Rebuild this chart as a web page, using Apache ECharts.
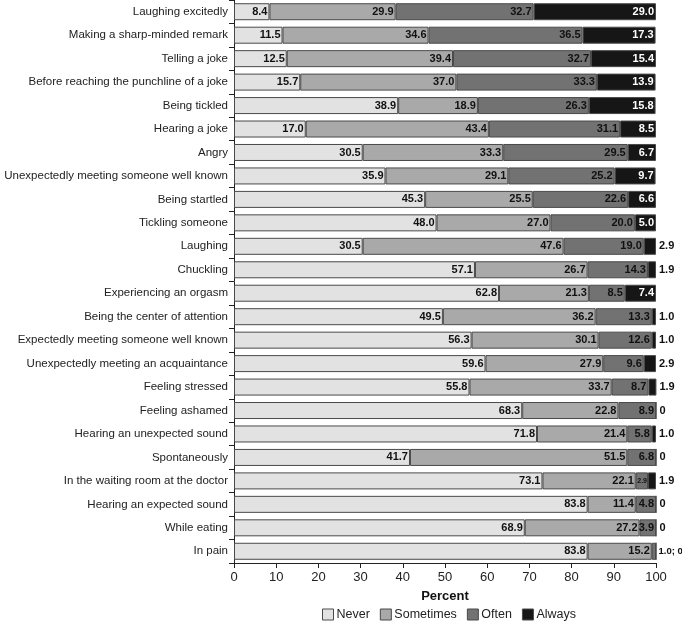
<!DOCTYPE html>
<html><head><meta charset="utf-8">
<script src="https://cdn.jsdelivr.net/npm/echarts@6/dist/echarts.min.js"></script>
<style>html,body{margin:0;padding:0;background:#fff}#c{width:682px;height:622px}</style>
</head><body><div id="c"></div>
<script>
const categories = [
  "Laughing excitedly","Making a sharp-minded remark","Telling a joke","Before reaching the punchline of a joke",
  "Being tickled","Hearing a joke","Angry","Unexpectedly meeting someone well known","Being startled",
  "Tickling someone","Laughing","Chuckling","Experiencing an orgasm","Being the center of attention",
  "Expectedly meeting someone well known","Unexpectedly meeting an acquaintance","Feeling stressed",
  "Feeling ashamed","Hearing an unexpected sound","Spontaneously","In the waiting room at the doctor",
  "Hearing an expected sound","While eating","In pain"
];
const never     = [8.4,11.5,12.5,15.7,38.9,17.0,30.5,35.9,45.3,48.0,30.5,57.1,62.8,49.5,56.3,59.6,55.8,68.3,71.8,41.7,73.1,83.8,68.9,83.8];
const sometimes = [29.9,34.6,39.4,37.0,18.9,43.4,33.3,29.1,25.5,27.0,47.6,26.7,21.3,36.2,30.1,27.9,33.7,22.8,21.4,51.5,22.1,11.4,27.2,15.2];
const often     = [32.7,36.5,32.7,33.3,26.3,31.1,29.5,25.2,22.6,20.0,19.0,14.3,8.5,13.3,12.6,9.6,8.7,8.9,5.8,6.8,2.9,4.8,3.9,1.0];
const always    = [29.0,17.3,15.4,13.9,15.8,8.5,6.7,9.7,6.6,5.0,2.9,1.9,7.4,1.0,1.0,2.9,1.9,0,1.0,0,1.9,0,0,0];
const seriesNames = ["Never","Sometimes","Often","Always"];
const colors = ["#e2e2e2","#a9a9a9","#727272","#161616"];

const FONT = "'Liberation Sans Narrow','Liberation Sans',Arial,sans-serif";
const outsideAlways = always.map(v => v < 4);
// a row whose Often segment is too small for its own label gets a combined outside label
const combined = often.map(v => v < 2);

function buildData(vals, idx) {
  return vals.map((v, i) => {
    const item = { value: v };
    if (idx === 3) {
      if (outsideAlways[i]) {
        const txt = combined[i] ? (often[i].toFixed(1) + '; ' + (v === 0 ? '0' : v.toFixed(1)))
                                : (v === 0 ? '0' : v.toFixed(1));
        item.label = { show: true, position: 'right', distance: combined[i] ? 2 : 3, color: '#111',
                       formatter: txt, fontSize: combined[i] ? 9.5 : 11 };
      }
    } else if (idx === 2 && combined[i]) {
      item.label = { show: false };
    } else if (idx === 2 && v < 3.5) {
      item.label = { fontSize: 7, distance: 1 };
    }
    return item;
  });
}
const allVals = [never, sometimes, often, always];
const series = seriesNames.map((name, idx) => ({
  name, type: 'bar', stack: 'total', barWidth: 17,
  data: buildData(allVals[idx], idx),
  itemStyle: { color: colors[idx], borderColor: '#4a4a4a', borderWidth: 1 },
  label: {
    show: true, position: 'insideRight', distance: 2,
    fontFamily: FONT, fontWeight: 'bold', fontSize: 11,
    color: idx === 3 ? '#fff' : '#111',
    formatter: p => p.value.toFixed(1)
  },
  emphasis: { disabled: true }
}));

const chart = echarts.init(document.getElementById('c'), null, { renderer: 'canvas' });
chart.setOption({
  animation: false,
  textStyle: { fontFamily: FONT },
  grid: { left: 234, right: 26, top: 0, bottom: 59, containLabel: false, outerBoundsMode: 'none' },
  legend: {
    data: seriesNames, bottom: 1, left: 322, padding: 0,
    itemWidth: 11, itemHeight: 11, itemGap: 10,
    icon: 'rect',
    itemStyle: { borderColor: '#4a4a4a', borderWidth: 1 },
    textStyle: { fontFamily: FONT, fontSize: 12.5, color: '#222', padding: [0, 0, 0, -2] }
  },
  xAxis: {
    type: 'value', min: 0, max: 100, interval: 10,
    name: 'Percent', nameLocation: 'middle', nameGap: 27,
    nameTextStyle: { fontFamily: FONT, fontWeight: 'bold', fontSize: 13, color: '#111' },
    axisLine: { show: true, lineStyle: { color: '#222', width: 1 } },
    axisTick: { show: true, length: 5, lineStyle: { color: '#222' } },
    axisLabel: { fontFamily: FONT, fontSize: 13, color: '#222', margin: 8 },
    splitLine: { show: false }
  },
  yAxis: {
    type: 'category', data: categories, inverse: true,
    axisLine: { show: true, lineStyle: { color: '#222', width: 1 } },
    axisTick: { show: true, length: 5, lineStyle: { color: '#222' } },
    axisLabel: { fontFamily: FONT, fontSize: 11.5, color: '#222', margin: 6 }
  },
  series
});
</script></body></html>
